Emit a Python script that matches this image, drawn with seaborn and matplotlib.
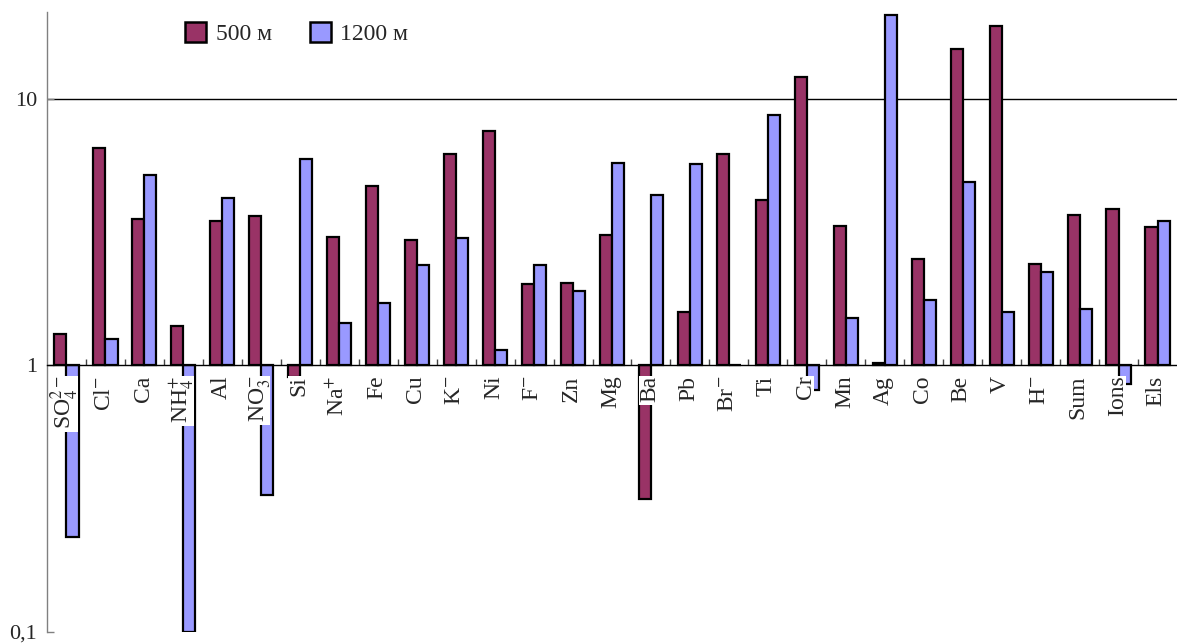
import numpy as np
import pandas as pd
import matplotlib
matplotlib.use("Agg")
import matplotlib.pyplot as plt
from matplotlib.path import Path
import seaborn as sns

# Enrichment ratios of components at two altitudes, plotted on a log axis around 1
elements = [r"SO$_4^{2-}$", r"Cl$^{-}$", "Ca", r"NH$_4^{+}$", "Al", r"NO$_3^{-}$", "Si",
            r"Na$^{+}$", "Fe", "Cu", r"K$^{-}$", "Ni", r"F$^{-}$", "Zn", "Mg", "Ba", "Pb",
            r"Br$^{-}$", "Ti", "Cr", "Mn", "Ag", "Co", "Be", "V", r"H$^{-}$", "Sum",
            "Ions", "Els"]
ratio_500 = [1.31, 6.52, 3.54, 1.40, 3.46, 3.62, 0.90, 3.02, 4.68, 2.95, 6.21, 7.54,
             2.02, 2.04, 3.09, 0.314, 1.59, 6.21, 4.18, 12.0, 3.34, 1.02, 2.51, 15.3,
             18.7, 2.40, 3.67, 3.86, 3.29]
ratio_1200 = [0.227, 1.25, 5.15, 0.10, 4.23, 0.326, 5.95, 1.44, 1.71, 2.38, 2.99, 1.14,
              2.37, 1.905, 5.75, 4.36, 5.70, 1.0, 8.68, 0.807, 1.51, 20.6, 1.75, 4.86,
              1.59, 2.23, 1.63, 0.854, 3.48]
series = ["500 м", "1200 м"]
colors = ["#993366", "#9999FF"]
y_ticks = [0.1, 1, 10]
y_tick_labels = ["0,1", "1", "10"]

sns.set_theme(style="white")
plt.rcParams["font.family"] = ["Liberation Serif", "DejaVu Serif"]
plt.rcParams["mathtext.fontset"] = "stix"

n = len(elements)
df = pd.DataFrame({
    "element": elements * 2,
    "series": [series[0]] * n + [series[1]] * n,
    "ratio": ratio_500 + ratio_1200,
})
# bars grow up or down from ratio = 1 on a logarithmic scale
df["log_ratio"] = np.log10(df["ratio"])


def glyph_box(x0, y0, width, height, mutation_size):
    """White patch around a label, trimmed a little on the descender side."""
    xa = x0 - 0.12 * mutation_size
    xb = x0 + width
    ya = y0 + 0.10 * height
    yb = y0 + height
    return Path([(xa, ya), (xb, ya), (xb, yb), (xa, yb), (xa, ya)], closed=True)


W, H = 1177, 644
fig = plt.figure(figsize=(W / 100, H / 100), dpi=100)
ax = fig.add_axes([47 / W, 12 / H, 1 - 47 / W, 620 / H])

sns.barplot(data=df, x="element", y="log_ratio", hue="series", order=elements,
            hue_order=series, palette=dict(zip(series, colors)), width=0.62, gap=0,
            edgecolor="black", linewidth=1.6, saturation=1, errorbar=None, ax=ax)

ax.axhline(np.log10(10), color="black", lw=1, zorder=0.5)

ax.set_xlim(-0.5, n - 0.5)
ax.set_ylim(-1, np.log10(21.1))
ax.set_xlabel("")
ax.set_ylabel("")

for side in ("top", "right"):
    ax.spines[side].set_visible(False)
ax.spines["bottom"].set_position(("data", 0))
ax.spines["bottom"].set_color("black")
ax.spines["bottom"].set_linewidth(1)
ax.spines["left"].set_color("#808080")
ax.spines["left"].set_linewidth(1)

ax.set_yticks(np.log10(y_ticks))
ax.set_yticklabels(y_tick_labels)
ax.tick_params(axis="y", direction="in", length=5, color="#808080", width=1,
               labelsize=16, pad=7, left=True)

# category names sit just under the ratio = 1 line on white patches over the bars
ax.set_xticks(np.arange(n))
ax.set_xticklabels([""] * n)
ax.set_xticks(np.arange(n - 1) + 0.5, minor=True)
ax.tick_params(axis="x", which="major", length=0)
ax.tick_params(axis="x", which="minor", direction="in", length=4, width=1,
               color="#444444", bottom=True)
for i, name in enumerate(elements):
    ax.annotate(name, xy=(i, 0), xytext=(-1, -7.5), textcoords="offset points",
                rotation=90, ha="center", va="top", fontsize=17, zorder=5,
                annotation_clip=False,
                bbox=dict(boxstyle=glyph_box, facecolor="white", edgecolor="none"))

leg = ax.legend(loc="upper left", bbox_to_anchor=(185 / W, 1 - 22 / H),
                bbox_transform=fig.transFigure, ncol=2, frameon=False, fontsize=17,
                handlelength=0.9, handleheight=0.9, handletextpad=0.4,
                columnspacing=1.6, borderpad=0, borderaxespad=0)
for h in leg.legend_handles:
    h.set_edgecolor("black")
    h.set_linewidth(1.8)

fig.savefig("out.png", dpi=100)
